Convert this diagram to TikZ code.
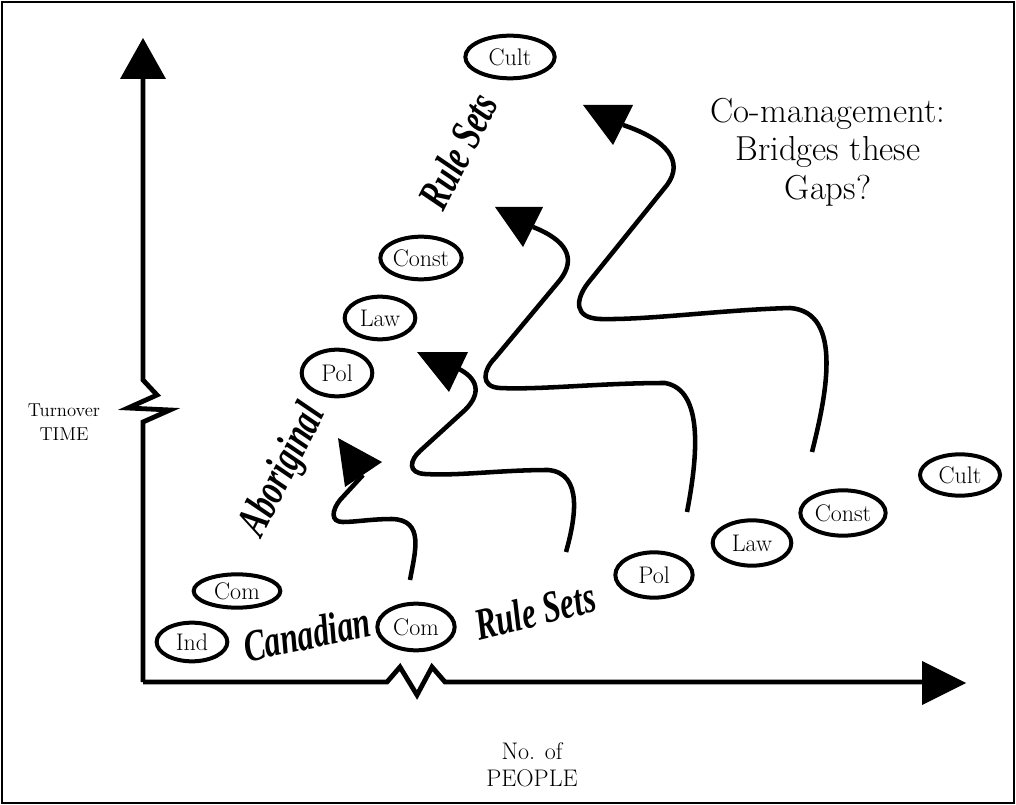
\documentclass[tikz,border=0pt]{standalone}
\usepackage{fontspec}
\usetikzlibrary{shapes.geometric}
\newfontfamily\brushfont{Liberation Serif}
\begin{document}
\begin{tikzpicture}[x=0.75pt,y=-0.75pt,
  axis/.style={line width=3.6pt},
  wave/.style={line width=3.4pt},
  headfill/.style={fill=black},
  rule/.style={ellipse, draw, line width=3pt, inner sep=0pt,
    font=\fontsize{18}{20}\selectfont},
  script/.style={inner sep=0pt,
    font=\brushfont\bfseries\itshape\fontsize{28}{30}\selectfont},
  plain/.style={inner sep=0pt, align=center}]
\useasboundingbox (0,0) rectangle (1016,805);
\draw[line width=2pt] (2,2) rectangle (1014,803);

% axes with breaks
\coordinate (origin) at (143,682);
\coordinate (ytop) at (143,79);
\coordinate (xend) at (922,682);
\draw[axis] (origin) -- (143,422) -- (170,410) -- (128,408) -- (157,395)
  -- (143,380) -- (ytop);
\fill[headfill] (143,38) -- (166,79) -- (120,79) -- cycle;
\draw[axis] (origin) -- (387,682) -- (400,667) -- (417,695) -- (432,667)
  -- (445,682) -- (xend);
\fill[headfill] (966,683) -- (922,705) -- (922,661) -- cycle;

% axis titles
\node[plain, font=\fontsize{14}{18}\selectfont] (ttime) at (64,422) {Turnover\\TIME};
\node[plain, font=\fontsize{18}{20}\selectfont] (npeople) at (532,765) {No. of\\PEOPLE};

% Canadian rule sets
\node[rule, minimum width=53pt, minimum height=29pt] (ind) at (192,642) {Ind};
\node[rule, minimum width=58pt, minimum height=35pt] (com2) at (416,627) {Com};
\node[rule, minimum width=58pt, minimum height=34pt] (pol2) at (654,575) {Pol};
\node[rule, minimum width=59pt, minimum height=34pt] (law2) at (752,543) {Law};
\node[rule, minimum width=64pt, minimum height=34pt] (const2) at (843,513) {Const};
\node[rule, minimum width=60pt, minimum height=31pt] (cult2) at (960,475) {Cult};

% Aboriginal rule sets
\node[rule, minimum width=65pt, minimum height=25pt] (com1) at (237,591) {Com};
\node[rule, minimum width=53pt, minimum height=35pt] (pol1) at (337,373) {Pol};
\node[rule, minimum width=53pt, minimum height=32pt] (law1) at (380,318) {Law};
\node[rule, minimum width=61pt, minimum height=32pt] (const1) at (421,258) {Const};
\node[rule, minimum width=67pt, minimum height=32pt] (cult1) at (510,57) {Cult};

% slanted titles
\node[script, rotate=12] (canadian) at (307,634) {\scalebox{0.85}[1.2]{Canadian}};
\node[script, rotate=14] (rules2) at (535,611) {\scalebox{0.85}[1.2]{Rule Sets}};
\node[script, rotate=63] (aboriginal) at (284,471) {\scalebox{0.85}[1.2]{Aboriginal}};
\node[script, rotate=63] (rules1) at (458,151) {\scalebox{0.85}[1.2]{Rule Sets}};

% question
\node[plain, font=\fontsize{26}{29}\selectfont] (question) at (828,152)
  {Co-management:\\Bridges these\\Gaps?};

% wavy bridging arrows
\coordinate (w1s) at (410,580);
\coordinate (w1e) at (363,475);
\draw[wave] (w1s) .. controls (415,552) and (425,520) .. (392,519)
  .. controls (372,519) and (355,522) .. (343,522)
  .. controls (330,522) and (332,510) .. (340,500) -- (w1e);
\fill[headfill] (338,438) -- (382,462) -- (345,487) -- cycle;

\coordinate (w2s) at (566,552);
\coordinate (w2e) at (457,368);
\draw[wave] (w2s) .. controls (575,520) and (584,473) .. (548,470)
  .. controls (500,470) and (460,476) .. (425,474)
  .. controls (407,473) and (410,460) .. (420,451) -- (465,410)
  .. controls (482,393) and (478,378) .. (w2e);
\fill[headfill] (417,352) -- (468,352) -- (449,392) -- cycle;

\coordinate (w3s) at (687,512);
\coordinate (w3e) at (533,227);
\draw[wave] (w3s) .. controls (697,460) and (705,390) .. (665,383)
  .. controls (600,383) and (540,390) .. (500,388)
  .. controls (480,387) and (483,370) .. (495,358) -- (560,280)
  .. controls (577,258) and (566,240) .. (w3e);
\fill[headfill] (495,207) -- (543,207) -- (523,247) -- cycle;

\coordinate (w4s) at (812,452);
\coordinate (w4e) at (623,125);
\draw[wave] (w4s) .. controls (825,400) and (845,312) .. (790,308)
  .. controls (720,310) and (650,320) .. (600,319)
  .. controls (574,318) and (575,300) .. (588,283) -- (667,185)
  .. controls (684,162) and (668,140) .. (w4e);
\fill[headfill] (583,105) -- (633,105) -- (613,145) -- cycle;
\end{tikzpicture}
\end{document}
